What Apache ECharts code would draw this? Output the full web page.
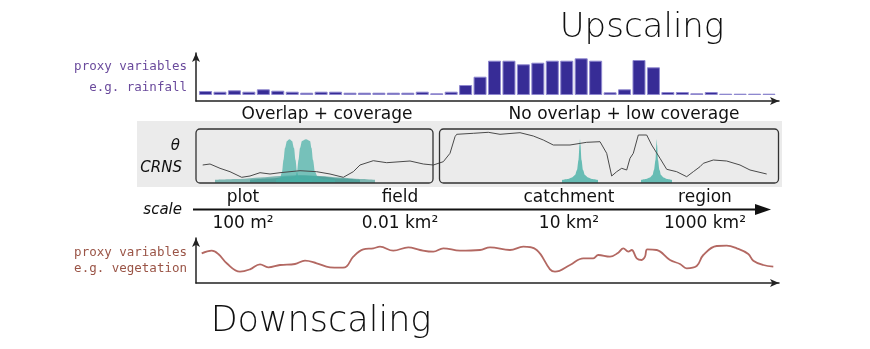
<!DOCTYPE html>
<html>
<head>
<meta charset="utf-8">
<script src="https://cdn.jsdelivr.net/npm/echarts@6/dist/echarts.min.js"></script>
<style>html,body{margin:0;padding:0;background:#fff}#c{width:870px;height:349px}</style>
</head>
<body>
<div id="c"></div>
<script>
// ---------- data ----------
// rainfall proxy bars (40 bins along the scale axis)
const rainfall = [4,3.3,4.7,3.3,5.7,4.3,3.3,2.3,3.3,3.3,2.3,2.3,2.3,2.3,2.3,3.3,1.7,3.3,10,18.3,
                  34.3,34.3,30.7,32.3,34.3,34.3,36.7,34.3,2.7,5.7,35,27.7,3,3,1.7,3,1.3,1.3,1.3,1.3];
// soil moisture (theta) series: [position, value]
const thetaX = [6.7,14,24,34,45.7,54,64,74,84,104,120.7,134,147.3,157.3,164,177.3,190.7,214,227.3,237.3,247.3,254,259,260.7,277.3,292.3,304,324,337.3,347.3,357.3,374,390.7,404,410.7,415.7,420.7,425.7,430.7,434,437.3,442.3,450.7,455.7,464,470.7,480.7,490.7,497.3,504,507.3,517.3,530.7,544,554,570.7];
const thetaY = [15,16,11.7,8.3,2.7,4,7.3,6,7.3,9.3,8.3,6,2.7,8.3,15,19.3,17.3,19,16,15,18.3,26.7,43.3,45.7,46.7,47.7,45.7,47.3,44,40,35,35,37.7,38.3,26.7,4,8.3,11.7,10,21.7,26.7,45,45,35,21.7,10.7,8.3,3.3,8.3,13.3,16.7,20,19,15,10,6];
// CRNS footprints (sensitivity distributions)
const peakA_X = [80,84,86,87.5,89,91,93.5,96,98,99.5,101,103,107,116];
const peakA_Y = [0.5,2,8,20,32,39,40.7,39,32,20,8,2,0.5,0.2];
const peakB_X = [94,99,101,102.5,104,106,110,114,115.5,117,119,122,128,139];
const peakB_Y = [0.3,2,8,20,32,39,40.7,39,32,20,8,2.5,0.8,0.3];
const broadC_X = [19,44,64,84,104,124,144,164,179];
const broadC_Y = [0.2,1,2.5,4,5,4,2.5,1,0.2];
const broadD_X = [54,74,94,109,124,144,164];
const broadD_Y = [0.3,1.5,3.5,4.5,3.5,1.5,0.3];
const spikeE_X = [366,372,376,379,381,382.5,383.5,384,384.5,385.5,387,389,392,396,402];
const spikeE_Y = [0,1,2.5,5,10,20,35,40.7,35,20,10,5,2.5,1,0];
const spikeF_X = [445,450,454,456.5,458,459.5,460.3,460.7,461.1,462,463.5,465,467.5,471,476];
const spikeF_Y = [0,1,2.5,5,10,20,35,40.7,35,20,10,5,2.5,1,0];
// vegetation proxy series
const vegX = [5.7,15.7,22.3,30.7,44,54,64,72.3,84,99,109,120.7,134,144,149,157.3,167.3,177.3,184,197.3,212.3,224,237.3,247.3,264,284,294,314,327.3,340.7,354,359,374,387.3,397.3,402.3,414,422.3,427.3,432.3,435.7,440.7,445.7,449,451.3,460.7,474,484,490.7,500.7,507.3,520.7,530.7,540.7,552.3,557.3,567.3,577.3];
const vegY = [29.7,32.3,29,19.7,11.3,13.7,18.7,15.7,18,19,22.3,19.7,15.7,15.3,15.7,26.3,33.7,34.7,36.3,32.3,35.7,33,31.3,34.7,32.3,33,35.7,33,36.3,33,13.7,11.3,18,24.7,24.7,28,26.3,30.3,34.7,31.3,33,24.7,23,26.3,33.7,33,23,19,14.7,17,28,37,37.3,34.7,29,22.3,18,16.3];
// scale axis tick labels
const scaleNames = ['plot','field','catchment','region'];
const scaleAreas = ['100 m²','0.01 km²','10 km²','1000 km²'];
const scalePos = [47,204,373,509];
// texts
const titleUp = 'Upscaling';
const titleDown = 'Downscaling';
const rainLabel = ['proxy variables','e.g. rainfall'];
const vegLabel = ['proxy variables','e.g. vegetation'];
const leftLabel = ['θ','CRNS'];
const boxLabels = ['Overlap + coverage','No overlap + low coverage'];
const scaleWord = 'scale';

// ---------- chart ----------
const zip = (xs, ys) => xs.map((x, i) => [x, ys[i]]);
const chart = echarts.init(document.getElementById('c'), null, {renderer: 'canvas'});
const axisArrow = {show: true, onZero: false, symbol: ['none', 'arrow'], symbolSize: [6, 9],
                   lineStyle: {color: '#222', width: 1.5}};
const hiddenAxis = {show: false};
const sans = 'DejaVu Sans';

function area(xs, ys, color, z) {
  return {type: 'line', xAxisIndex: 1, yAxisIndex: 1, data: zip(xs, ys), symbol: 'none',
          smooth: 0.3, smoothMonotone: 'x', lineStyle: {width: 0}, z: z || 3,
          areaStyle: {color: color, origin: 'start', opacity: 1}, silent: true};
}

const option = {
  animation: false,
  grid: [
    {left: 196, width: 583, top: 53, height: 48},
    {left: 196, width: 583, top: 129, height: 54},
    {left: 196, width: 583, top: 238, height: 45},
    {left: 196, width: 583, top: 209, height: 1}
  ],
  xAxis: [
    {gridIndex: 0, type: 'value', min: -0.16, max: 40.19, axisLine: axisArrow, axisTick: {show: false}, axisLabel: {show: false}, splitLine: {show: false}},
    Object.assign({gridIndex: 1, type: 'value', min: 0, max: 583}, hiddenAxis),
    {gridIndex: 2, type: 'value', min: 0, max: 583, axisLine: axisArrow, axisTick: {show: false}, axisLabel: {show: false}, splitLine: {show: false}},
    Object.assign({gridIndex: 3, type: 'value', min: 0, max: 583}, hiddenAxis)
  ],
  yAxis: [
    {gridIndex: 0, type: 'value', min: -6, max: 42, axisLine: axisArrow, axisTick: {show: false}, axisLabel: {show: false}, splitLine: {show: false}},
    Object.assign({gridIndex: 1, type: 'value', min: -3, max: 51}, hiddenAxis),
    {gridIndex: 2, type: 'value', min: 0, max: 45, axisLine: axisArrow, axisTick: {show: false}, axisLabel: {show: false}, splitLine: {show: false}},
    Object.assign({gridIndex: 3, type: 'value', min: 0, max: 1}, hiddenAxis)
  ],
  series: [
    {type: 'bar', xAxisIndex: 0, yAxisIndex: 0, barWidth: 13,
     data: rainfall.map((v, i) => [i + 0.5, v]),
     itemStyle: {color: '#372c96', borderColor: '#8f88cf', borderWidth: 1}},
    area(broadC_X, broadC_Y, 'rgba(38,140,132,0.55)', 3),
    area(broadD_X, broadD_Y, 'rgba(38,140,132,0.5)', 3),
    area(peakA_X, peakA_Y, 'rgba(72,176,166,0.72)', 4),
    area(peakB_X, peakB_Y, 'rgba(72,176,166,0.72)', 4),
    area(spikeE_X, spikeE_Y, 'rgba(80,180,170,0.85)', 4),
    area(spikeF_X, spikeF_Y, 'rgba(80,180,170,0.85)', 4),
    {type: 'line', xAxisIndex: 1, yAxisIndex: 1, data: zip(thetaX, thetaY), symbol: 'none',
     lineStyle: {color: '#4a4a4a', width: 1}, z: 5},
    {type: 'line', xAxisIndex: 2, yAxisIndex: 2, data: zip(vegX, vegY), symbol: 'none', smooth: 0.4,
     lineStyle: {color: '#b36862', width: 1.8}},
    {type: 'scatter', xAxisIndex: 3, yAxisIndex: 3, symbolSize: 0, silent: true, itemStyle: {opacity: 1},
     data: scalePos.map((p, i) => ({value: [p, 0.5], name: scaleNames[i]})),
     label: {show: true, position: 'top', distance: 3, formatter: '{b}', color: '#111', fontFamily: sans, fontSize: 17}},
    {type: 'scatter', xAxisIndex: 3, yAxisIndex: 3, symbolSize: 0, silent: true, itemStyle: {opacity: 1},
     data: scalePos.map((p, i) => ({value: [p, 0.5], name: scaleAreas[i]})),
     label: {show: true, position: 'bottom', distance: 6, formatter: '{b}', color: '#111', fontFamily: sans, fontSize: 17}}
  ],
  graphic: [
    {type: 'rect', z: -10, shape: {x: 137, y: 121, width: 645, height: 66}, style: {fill: '#ebebeb'}},
    {type: 'rect', z: 10, shape: {x: 196, y: 129, width: 237, height: 54, r: 4}, style: {fill: null, stroke: '#333', lineWidth: 1.3}},
    {type: 'rect', z: 10, shape: {x: 439.5, y: 129, width: 339, height: 54, r: 4}, style: {fill: null, stroke: '#333', lineWidth: 1.3}},
    {type: 'line', z: 10, shape: {x1: 193, y1: 209.5, x2: 757, y2: 209.5}, style: {stroke: '#111', lineWidth: 2}},
    {type: 'polygon', z: 10, shape: {points: [[755, 204], [771, 209.5], [755, 215]]}, style: {fill: '#111'}},
    {type: 'text', z: 10, x: 182, y: 210, style: {text: scaleWord, fill: '#111', font: 'italic 15px "DejaVu Sans"', align: 'right', verticalAlign: 'middle'}},
    {type: 'text', z: 10, x: 180, y: 146, style: {text: leftLabel[0], fill: '#111', font: 'italic 15px "DejaVu Sans"', align: 'right', verticalAlign: 'middle'}},
    {type: 'text', z: 10, x: 182, y: 168, style: {text: leftLabel[1], fill: '#111', font: 'italic 15px "DejaVu Sans"', align: 'right', verticalAlign: 'middle'}},
    {type: 'text', z: 10, x: 327, y: 115, style: {text: boxLabels[0], fill: '#111', font: '17px "DejaVu Sans"', align: 'center', verticalAlign: 'middle'}},
    {type: 'text', z: 10, x: 624, y: 115, style: {text: boxLabels[1], fill: '#111', font: '17px "DejaVu Sans"', align: 'center', verticalAlign: 'middle'}},
    {type: 'text', z: 10, x: 187, y: 67, style: {text: rainLabel[0], fill: '#6a4a9c', font: '12.5px "DejaVu Sans Mono"', align: 'right', verticalAlign: 'middle'}},
    {type: 'text', z: 10, x: 187, y: 88, style: {text: rainLabel[1], fill: '#6a4a9c', font: '12.5px "DejaVu Sans Mono"', align: 'right', verticalAlign: 'middle'}},
    {type: 'text', z: 10, x: 187, y: 253, style: {text: vegLabel[0], fill: '#9a5446', font: '12.5px "DejaVu Sans Mono"', align: 'right', verticalAlign: 'middle'}},
    {type: 'text', z: 10, x: 187, y: 269, style: {text: vegLabel[1], fill: '#9a5446', font: '12.5px "DejaVu Sans Mono"', align: 'right', verticalAlign: 'middle'}},
    {type: 'text', z: 10, x: 642, y: 28, style: {text: titleUp, fill: '#111', font: '200 34px "DejaVu Sans"', align: 'center', verticalAlign: 'middle'}},
    {type: 'text', z: 10, x: 321, y: 322, style: {text: titleDown, fill: '#111', font: '200 35px "DejaVu Sans"', align: 'center', verticalAlign: 'middle'}}
  ]
};
chart.setOption(option);
</script>
</body>
</html>
